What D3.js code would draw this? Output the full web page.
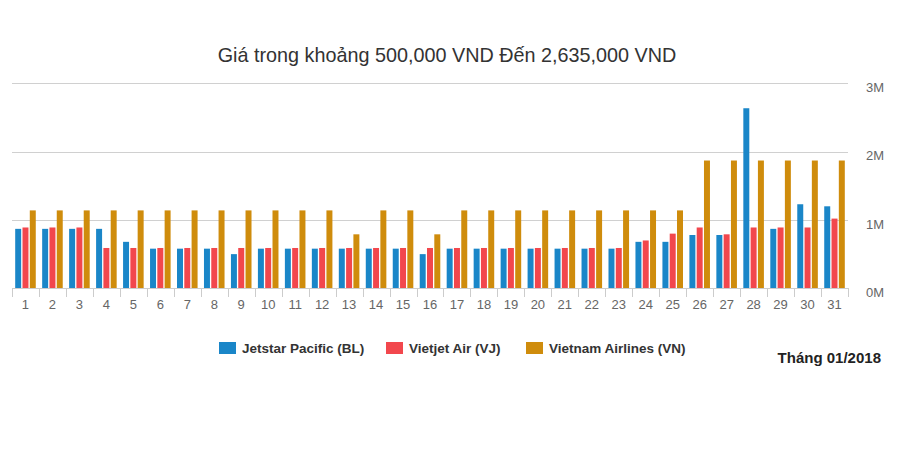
<!DOCTYPE html>
<html>
<head>
<meta charset="utf-8">
<script src="https://cdn.jsdelivr.net/npm/d3@7"></script>
<style>
  html, body { margin: 0; padding: 0; background: #fff; }
  svg { display: block; font-family: "Liberation Sans", Arial, sans-serif; }
</style>
</head>
<body>
<svg id="chart" width="900" height="471"></svg>
<script>
const days = d3.range(1, 32).map(String);
const seriesNames = ["Jetstar Pacific (BL)", "Vietjet Air (VJ)", "Vietnam Airlines (VN)"];
const seriesColors = ["#1a86c8", "#f2474d", "#cf8c0c"];
// values in millions VND
const jetstar = [0.87,0.87,0.87,0.87,0.68,0.58,0.58,0.58,0.5,0.58,0.58,0.58,0.58,0.58,0.58,0.5,0.58,0.58,0.58,0.58,0.58,0.58,0.58,0.68,0.68,0.78,0.78,2.635,0.87,1.23,1.2];
const vietjet = [0.89,0.89,0.89,0.59,0.59,0.59,0.59,0.59,0.59,0.59,0.59,0.59,0.59,0.59,0.59,0.59,0.59,0.59,0.59,0.59,0.59,0.59,0.59,0.7,0.8,0.89,0.79,0.89,0.89,0.89,1.02];
const vnairlines = [1.14,1.14,1.14,1.14,1.14,1.14,1.14,1.14,1.14,1.14,1.14,1.14,0.79,1.14,1.14,0.79,1.14,1.14,1.14,1.14,1.14,1.14,1.14,1.14,1.14,1.87,1.87,1.87,1.87,1.87,1.87];
const yTicks = [0, 1, 2, 3];
const titleText = "Giá trong khoảng 500,000 VND Đến 2,635,000 VND";
const monthText = "Tháng 01/2018";

const allSeries = [jetstar, vietjet, vnairlines];
const svg = d3.select("#chart");
svg.append("rect").attr("width", 900).attr("height", 471).attr("fill", "#fff");

const x0 = d3.scaleBand().domain(days).range([12, 848]).paddingInner(0).paddingOuter(0);
const x1 = d3.scaleBand().domain([0, 1, 2]).range([3.2, x0.bandwidth() - 3.2]).paddingInner(0.18).paddingOuter(0);
const y = d3.scaleLinear().domain([0, 3]).range([288.3, 83.3]);

// gridlines
svg.append("g").selectAll("line").data(yTicks.filter(d => d > 0)).join("line")
  .attr("x1", 12).attr("x2", 848)
  .attr("y1", d => Math.round(y(d)) + 0.5).attr("y2", d => Math.round(y(d)) + 0.5)
  .attr("stroke", "#d0d0d0").attr("stroke-width", 1);

// right y-axis labels
const yAxis = d3.axisRight(y).tickValues(yTicks).tickFormat(d => d + "M").tickSize(0).tickPadding(0);
const gy = svg.append("g").attr("transform", "translate(866,4)").call(yAxis);
gy.select(".domain").remove();
gy.selectAll("text").attr("fill", "#666").attr("font-size", 13)
  .attr("font-family", "Liberation Sans, Arial, sans-serif");

// bars
const groups = svg.append("g").selectAll("g").data(days).join("g")
  .attr("transform", d => `translate(${x0(d)},0)`);
groups.selectAll("rect").data((d, i) => allSeries.map((s, k) => ({k, v: s[i]}))).join("rect")
  .attr("x", d => x1(d.k)).attr("width", x1.bandwidth())
  .attr("y", d => y(d.v)).attr("height", d => y(0) - y(d.v))
  .attr("fill", d => seriesColors[d.k]);

// x axis
const xAxis = d3.axisBottom(x0).tickSize(0).tickPadding(0);
const gx = svg.append("g").attr("transform", "translate(0,288)").call(xAxis);
gx.select(".domain").attr("stroke", "#ccc").attr("d", "M12,0.5H848");
gx.selectAll("text").attr("fill", "#666").attr("font-size", 13).attr("dy", "0").attr("y", 21)
  .attr("font-family", "Liberation Sans, Arial, sans-serif");
// tick marks at category boundaries
svg.append("g").selectAll("line").data(days.concat(["end"])).join("line")
  .attr("x1", (d, i) => Math.round(12 + i * x0.step()) + 0.5)
  .attr("x2", (d, i) => Math.round(12 + i * x0.step()) + 0.5)
  .attr("y1", 288).attr("y2", 297).attr("stroke", "#ccc");

// title
svg.append("text").attr("x", 447).attr("y", 62).attr("text-anchor", "middle")
  .attr("font-size", 19.8).attr("fill", "#333").text(titleText);

// legend
const legendX = [219, 386, 526];
const lg = svg.append("g").selectAll("g").data(seriesNames).join("g")
  .attr("transform", (d, i) => `translate(${legendX[i]},342)`);
lg.append("rect").attr("width", 17).attr("height", 12).attr("fill", (d, i) => seriesColors[i]);
lg.append("text").attr("x", 23).attr("y", 11).attr("font-size", 13.5).attr("font-weight", "bold")
  .attr("fill", "#333").text(d => d);

svg.append("text").attr("x", 881).attr("y", 363).attr("text-anchor", "end")
  .attr("font-size", 15).attr("font-weight", "bold").attr("fill", "#222").text(monthText);
</script>
</body>
</html>
